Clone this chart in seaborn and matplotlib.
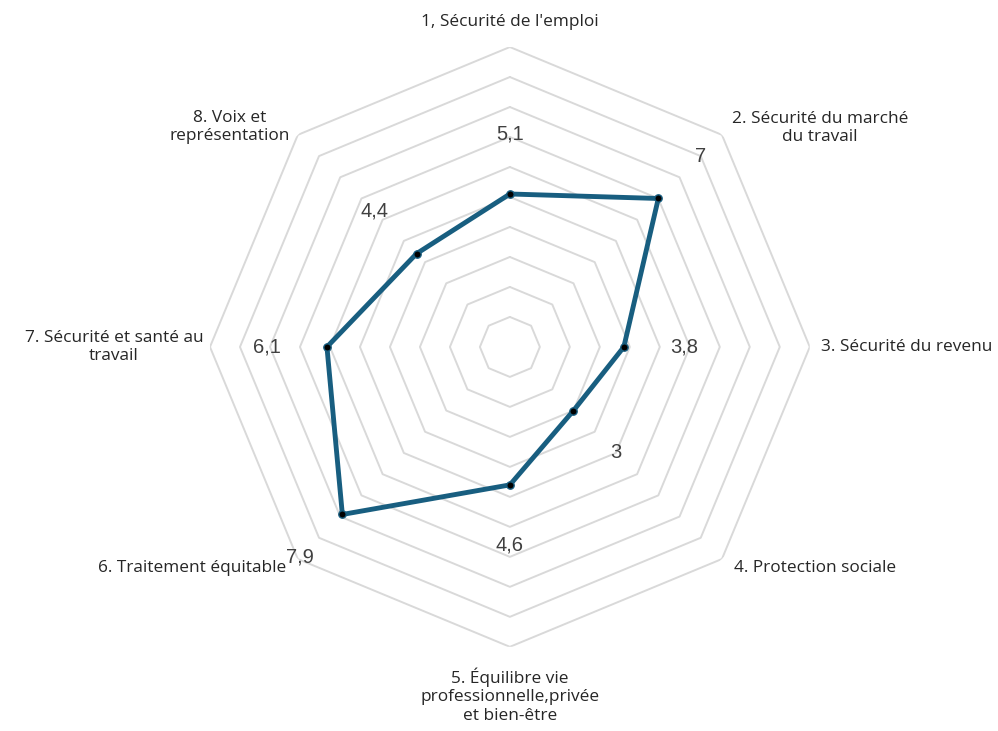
import matplotlib
matplotlib.use("Agg")
import matplotlib.pyplot as plt
import numpy as np
import pandas as pd
import seaborn as sns

categories = [
    "1, Sécurité de l'emploi",
    "2. Sécurité du marché\ndu travail",
    "3. Sécurité du revenu",
    "4. Protection sociale",
    "5. Équilibre vie\nprofessionnelle,privée\net bien-être",
    "6. Traitement équitable",
    "7. Sécurité et santé au\ntravail",
    "8. Voix et\nreprésentation",
]
values = [5.1, 7, 3.8, 3, 4.6, 7.9, 6.1, 4.4]
value_labels = ["5,1", "7", "3,8", "3", "4,6", "7,9", "6,1", "4,4"]
rings = list(range(1, 11))

# where the category names sit (angle in degrees clockwise from top, radius)
label_theta = [0, 54.8, 90, 125.9, 180, 225.4, 270, 308.2]
label_r = [10.83, 12.65, 10.37, 12.55, 11.63, 10.49, 13.2, 11.87]
label_ha = ["center", "center", "left", "center", "center", "right", "center", "center"]

line_color = "#185e80"
grid_color = "#d9d9d9"

sns.set_style("white")
plt.rcParams["font.family"] = ["Open Sans", "DejaVu Sans"]

n = len(categories)
theta = np.arange(n) * 2 * np.pi / n
df = pd.DataFrame({"theta": np.append(theta, 2 * np.pi),
                   "value": values + values[:1]})

fig = plt.figure(figsize=(9.98, 7.31), dpi=100)
ax = fig.add_axes([0.2104, 0.1149, 0.601, 0.821], projection="polar")
ax.set_theta_zero_location("N")
ax.set_theta_direction(-1)

# octagon gridlines
ring_theta = np.append(theta, theta[0])
for r in rings:
    ax.plot(ring_theta, [r] * len(ring_theta), color=grid_color, lw=1.4, zorder=1)

sns.lineplot(data=df, x="theta", y="value", ax=ax, sort=False, estimator=None,
             color=line_color, lw=3.5, zorder=3, legend=False)
sns.scatterplot(x=theta, y=values, ax=ax, color="black", s=28,
                edgecolor=line_color, linewidth=1, zorder=4, legend=False)

for t, v, lab in zip(theta, values, value_labels):
    ax.text(t, v + 2, lab, ha="center", va="center", fontsize=14.5,
            color="#404040", family=["Liberation Sans", "DejaVu Sans"])

for cat, t, r, ha in zip(categories, label_theta, label_r, label_ha):
    ax.text(np.deg2rad(t), r, cat, ha=ha, va="center", fontsize=12.4,
            color="#262626", linespacing=1.2)

ax.set_ylim(0, 10)
ax.set_xticks([])
ax.set_yticks([])
ax.set_xlabel("")
ax.set_ylabel("")
ax.grid(False)
ax.spines["polar"].set_visible(False)
ax.patch.set_visible(False)

fig.savefig("out.png", dpi=100)
